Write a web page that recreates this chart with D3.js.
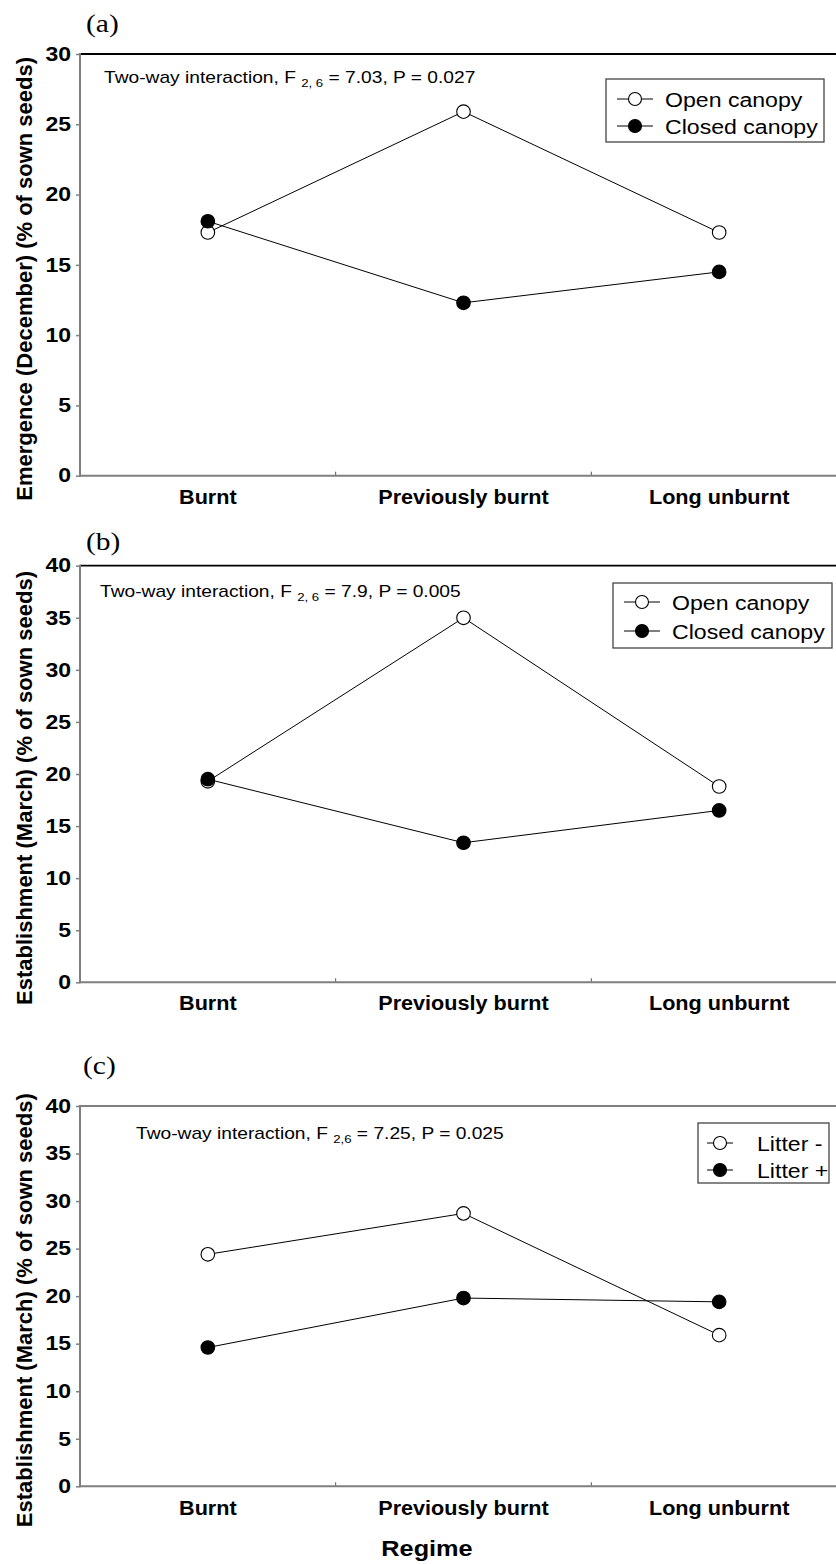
<!DOCTYPE html>
<html><head><meta charset="utf-8">
<script src="https://cdn.jsdelivr.net/npm/d3@7"></script>
<style>body{margin:0;background:#fff;}svg{display:block;}</style>
</head><body>
<svg id="chart" width="836" height="1564"></svg>
<script>
// ---- data ----
const categories = ["Burnt", "Previously burnt", "Long unburnt"];
const openCanopyA = [17.3, 25.9, 17.3];
const closedCanopyA = [18.1, 12.3, 14.5];
const openCanopyB = [19.3, 35.0, 18.8];
const closedCanopyB = [19.5, 13.4, 16.5];
const litterMinusC = [24.4, 28.7, 15.9];
const litterPlusC = [14.6, 19.8, 19.4];
const ticksA = [0, 5, 10, 15, 20, 25, 30];
const ticksBC = [0, 5, 10, 15, 20, 25, 30, 35, 40];
const legendAB = ["Open canopy", "Closed canopy"];
const legendC = ["Litter -", "Litter +"];
const yLabels = ["Emergence (December) (% of sown seeds)", "Establishment (March) (% of sown seeds)", "Establishment (March) (% of sown seeds)"];
const panelLetters = ["(a)", "(b)", "(c)"];
const annotations = [
  ["Two-way interaction, F ", "2, 6", " = 7.03, P = 0.027"],
  ["Two-way interaction, F ", "2, 6", " = 7.9, P = 0.005"],
  ["Two-way interaction, F ", "2,6", " = 7.25, P = 0.025"]
];
const xTitle = "Regime";

// ---- layout (not data) ----
const panels = [
  {top: 54, bottom: 475.7, ymax: 30, ticks: ticksA, series: [openCanopyA, closedCanopyA], legend: legendAB,
   topColor: "#000", letter: {x: 86, y: 32}, ann: {x: 104, y: 83},
   leg: {x0: 606, x1: 824, y0: 79, y1: 142, rows: [99, 126], l0: 11, l1: 47, c: 29, t: 59}, catY: 504},
  {top: 565.7, bottom: 982.3, ymax: 40, ticks: ticksBC, series: [openCanopyB, closedCanopyB], legend: legendAB,
   topColor: "#000", letter: {x: 86, y: 550}, ann: {x: 100, y: 596.5},
   leg: {x0: 613, x1: 832, y0: 583, y1: 648, rows: [602, 631], l0: 11, l1: 47, c: 29, t: 59}, catY: 1010},
  {top: 1106, bottom: 1486.3, ymax: 40, ticks: ticksBC, series: [litterMinusC, litterPlusC], legend: legendC,
   topColor: "#7f7f7f", letter: {x: 83, y: 1074}, ann: {x: 136, y: 1139},
   leg: {x0: 698, x1: 829, y0: 1123, y1: 1183, rows: [1143, 1170], l0: 9, l1: 35, c: 22, t: 59}, catY: 1515}
];
const fills = ["#fff", "#000"];
const left = 80, right = 847;
const SANS = "'Liberation Sans', Arial, sans-serif";
const SERIF = "'Liberation Serif', 'Times New Roman', serif";

const svg = d3.select("#chart");

function txt(g, x, y, s, o) {
  const t = g.append("text")
    .attr("transform", `translate(${x},${y}) scale(${o.sx || 1},1)` + (o.rot ? ` rotate(${o.rot})` : ""))
    .attr("font-family", o.family || SANS)
    .attr("font-size", o.size)
    .attr("font-weight", o.weight || "normal")
    .attr("text-anchor", o.anchor || "start")
    .attr("fill", "#000");
  if (s !== null) t.text(s);
  return t;
}

const band = d3.scaleBand().domain(categories).range([left, right]).paddingInner(0).paddingOuter(0);
const x = d3.scalePoint().domain(categories).range([left, right]).padding(0.5);

panels.forEach((p, i) => {
  const g = svg.append("g");
  const y = d3.scaleLinear().domain([0, p.ymax]).range([p.bottom, p.top]);

  // y axis ticks
  const ax = g.append("g").attr("transform", `translate(${left},0)`)
    .call(d3.axisLeft(y).tickValues(p.ticks).tickSize(4).tickFormat(d3.format("d")));
  ax.select(".domain").remove();
  ax.selectAll(".tick line").attr("stroke", "#7f7f7f").attr("stroke-width", 1.5);
  ax.selectAll(".tick text")
    .attr("x", -9 / 1.18).attr("transform", "scale(1.18,1)")
    .attr("font-family", SANS).attr("font-size", 19.5).attr("font-weight", "bold").attr("fill", "#000");

  // x axis ticks at band edges (pointing up)
  const edges = categories.map(c => band(c)).concat([right]);
  g.selectAll(".xt").data(edges).join("line")
    .attr("x1", d => d).attr("x2", d => d)
    .attr("y1", p.bottom).attr("y2", p.bottom - 4)
    .attr("stroke", "#555").attr("stroke-width", 1);

  // frame lines
  g.append("line").attr("x1", left).attr("x2", right).attr("y1", p.top).attr("y2", p.top)
    .attr("stroke", p.topColor).attr("stroke-width", 1.8);
  g.append("line").attr("x1", left).attr("x2", left).attr("y1", p.top - 1).attr("y2", p.bottom + 1)
    .attr("stroke", "#7f7f7f").attr("stroke-width", 2);
  g.append("line").attr("x1", left).attr("x2", right).attr("y1", p.bottom).attr("y2", p.bottom)
    .attr("stroke", "#7f7f7f").attr("stroke-width", 2);

  // category labels
  categories.forEach(c => txt(g, x(c), p.catY, c, {size: 21, weight: "bold", anchor: "middle", sx: 1.03}));

  // y label
  txt(g, 32, (p.top + p.bottom) / 2 + 14, yLabels[i], {size: 22, weight: "bold", anchor: "middle", rot: -90});

  // panel letter
  txt(g, p.letter.x, p.letter.y, panelLetters[i], {size: 25, family: SERIF, sx: 1.18});

  // annotation
  const a = txt(g, p.ann.x, p.ann.y, null, {size: 16, sx: 1.2});
  a.append("tspan").text(annotations[i][0]);
  a.append("tspan").attr("font-size", 11).attr("dy", 4).text(annotations[i][1]);
  a.append("tspan").attr("dy", -4).text(annotations[i][2]);

  // series lines and markers
  const line = d3.line().x((d, k) => x(categories[k])).y(d => y(d));
  p.series.forEach((s) => {
    g.append("path").datum(s).attr("d", line).attr("fill", "none").attr("stroke", "#000").attr("stroke-width", 1);
  });
  p.series.forEach((s, si) => {
    g.selectAll(null).data(s).join("circle")
      .attr("cx", (d, k) => x(categories[k])).attr("cy", d => y(d)).attr("r", 6.8)
      .attr("fill", fills[si]).attr("stroke", "#000").attr("stroke-width", 1.1);
  });

  // legend
  const L = p.leg;
  g.append("rect").attr("x", L.x0).attr("y", L.y0).attr("width", L.x1 - L.x0).attr("height", L.y1 - L.y0)
    .attr("fill", "#fff").attr("stroke", "#444").attr("stroke-width", 1.3);
  p.legend.forEach((lab, k) => {
    const ry = L.rows[k];
    g.append("line").attr("x1", L.x0 + L.l0).attr("x2", L.x0 + L.l1).attr("y1", ry).attr("y2", ry)
      .attr("stroke", "#000").attr("stroke-width", 1);
    g.append("circle").attr("cx", L.x0 + L.c).attr("cy", ry).attr("r", 6.5)
      .attr("fill", fills[k]).attr("stroke", "#000").attr("stroke-width", 1.1);
    txt(g, L.x0 + L.t, ry + 7.5, lab, {size: 21, sx: 1.1});
  });
});

// x title
txt(svg, 427, 1556, xTitle, {size: 22, weight: "bold", anchor: "middle", sx: 1.15});
</script>
</body></html>
